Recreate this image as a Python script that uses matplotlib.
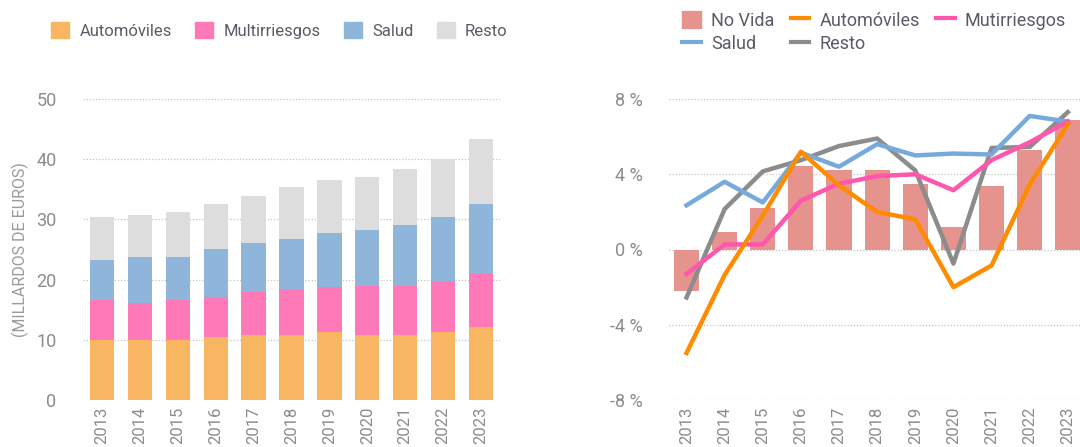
import matplotlib
matplotlib.use("Agg")
import matplotlib.pyplot as plt
from matplotlib.patches import Patch
from matplotlib.lines import Line2D
import numpy as np

plt.rcParams['font.family'] = ['Roboto', 'DejaVu Sans']

# Datos
years = ['2013', '2014', '2015', '2016', '2017', '2018', '2019', '2020', '2021', '2022', '2023']

# primas acumuladas (miles de millones)
auto = [10.0, 10.0, 10.0, 10.4, 10.8, 10.8, 11.3, 10.8, 10.8, 11.3, 12.1]
multi = [6.6, 6.1, 6.6, 6.7, 7.2, 7.7, 7.5, 8.2, 8.2, 8.5, 9.0]
salud = [6.6, 7.7, 7.2, 8.0, 8.0, 8.3, 9.0, 9.3, 10.1, 10.6, 11.5]
resto = [7.2, 7.0, 7.5, 7.5, 7.9, 8.5, 8.8, 8.8, 9.3, 9.7, 10.7]

# crecimiento (%)
no_vida = [-2.2, 0.95, 2.2, 4.45, 4.2, 4.2, 3.5, 1.2, 3.35, 5.3, 6.9]
g_auto = [-5.5, -1.35, 1.8, 5.2, 3.4, 2.0, 1.6, -2.0, -0.85, 3.45, 6.65]
g_multi = [-1.3, 0.27, 0.27, 2.6, 3.5, 3.9, 4.0, 3.15, 4.75, 5.7, 6.8]
g_salud = [2.35, 3.6, 2.5, 5.15, 4.4, 5.6, 5.0, 5.1, 5.05, 7.1, 6.8]
g_resto = [-2.55, 2.15, 4.15, 4.75, 5.5, 5.9, 4.2, -0.75, 5.4, 5.45, 7.3]

# Colores
c_auto = '#F9B662'
c_multi = '#FF78B7'
c_salud = '#8FB5DB'
c_resto = '#DDDDDD'
c_novida = '#E6938E'
l_auto = '#FF8C00'
l_multi = '#FF57AE'
l_salud = '#76AADB'
l_resto = '#8C8C8C'
tick_col = '#8c8c8c'
txt_col = '#595c66'

W, H = 1080, 447
fig = plt.figure(figsize=(W / 100, H / 100), dpi=100)

x = np.arange(len(years))

# Grafico izquierdo: barras apiladas
ax1 = fig.add_axes([83 / W, 47 / H, 417 / W, 301 / H])
bottom = np.zeros(len(years))
for vals, col in [(auto, c_auto), (multi, c_multi), (salud, c_salud), (resto, c_resto)]:
    ax1.bar(x, vals, width=0.64, bottom=bottom, color=col, zorder=2)
    bottom += np.array(vals)
ax1.set_ylim(0, 50)
ax1.set_xlim(-0.5, 10.5)
ax1.set_yticks([0, 10, 20, 30, 40, 50])
ax1.set_xticks(x)
ax1.set_xticklabels(years, rotation=90)
ax1.set_ylabel('(MILLARDOS DE EUROS)', color='#9a9a9a', fontsize=11.5, labelpad=5)

# Grafico derecho: crecimiento
ax2 = fig.add_axes([669 / W, 47 / H, 411 / W, 301 / H])
ax2.bar(x, no_vida, width=0.66, color=c_novida, zorder=2)
ax2.plot(x, g_resto, color=l_resto, lw=3.2, zorder=3)
ax2.plot(x, g_salud, color=l_salud, lw=3.2, zorder=3)
ax2.plot(x, g_multi, color=l_multi, lw=3.2, zorder=4)
ax2.plot(x, g_auto, color=l_auto, lw=3.2, zorder=5)
ax2.set_ylim(-8, 8)
ax2.set_xlim(-0.46, 10.32)
ax2.set_yticks([-8, -4, 0, 4, 8])
ax2.set_yticklabels(['-8 %', '-4 %', '0 %', '4 %', '8 %'])
ax2.set_xticks(x)
ax2.set_xticklabels(years, rotation=90)

for ax in (ax1, ax2):
    for s in ax.spines.values():
        s.set_visible(False)
    ax.tick_params(axis='y', length=0, pad=19, labelsize=13, labelcolor=tick_col)
    ax.tick_params(axis='x', length=0, pad=5, labelsize=12, labelcolor=tick_col)
    ax.yaxis.grid(True, linestyle=(0, (1, 1.5)), color='#c4c4c4', lw=0.9, zorder=0)
    ax.set_axisbelow(True)

# Leyendas
h1 = [Patch(color=c_auto), Patch(color=c_multi), Patch(color=c_salud), Patch(color=c_resto)]
fig.legend(h1, ['Automóviles', 'Multirriesgos', 'Salud', 'Resto'], loc='upper left',
           bbox_to_anchor=(51 / W, 1 - 22 / H), ncol=4, frameon=False, fontsize=12,
           labelcolor=txt_col, handlelength=1.1, handleheight=1.1, handletextpad=0.6,
           columnspacing=1.4, borderpad=0, borderaxespad=0)

h2 = [Patch(color=c_novida), Line2D([], [], color=l_salud, lw=3),
      Line2D([], [], color=l_auto, lw=3), Line2D([], [], color=l_resto, lw=3),
      Line2D([], [], color=l_multi, lw=3)]
fig.legend(h2, ['No Vida', 'Salud', 'Automóviles', 'Resto', 'Mutirriesgos'], loc='upper left',
           bbox_to_anchor=(682 / W, 1 - 11 / H), ncol=3, frameon=False, fontsize=13,
           labelcolor=txt_col, handlelength=1.05, handleheight=1.05, handletextpad=0.55,
           columnspacing=0.9, labelspacing=0.3, borderpad=0, borderaxespad=0)

plt.savefig('out.png', dpi=100)
